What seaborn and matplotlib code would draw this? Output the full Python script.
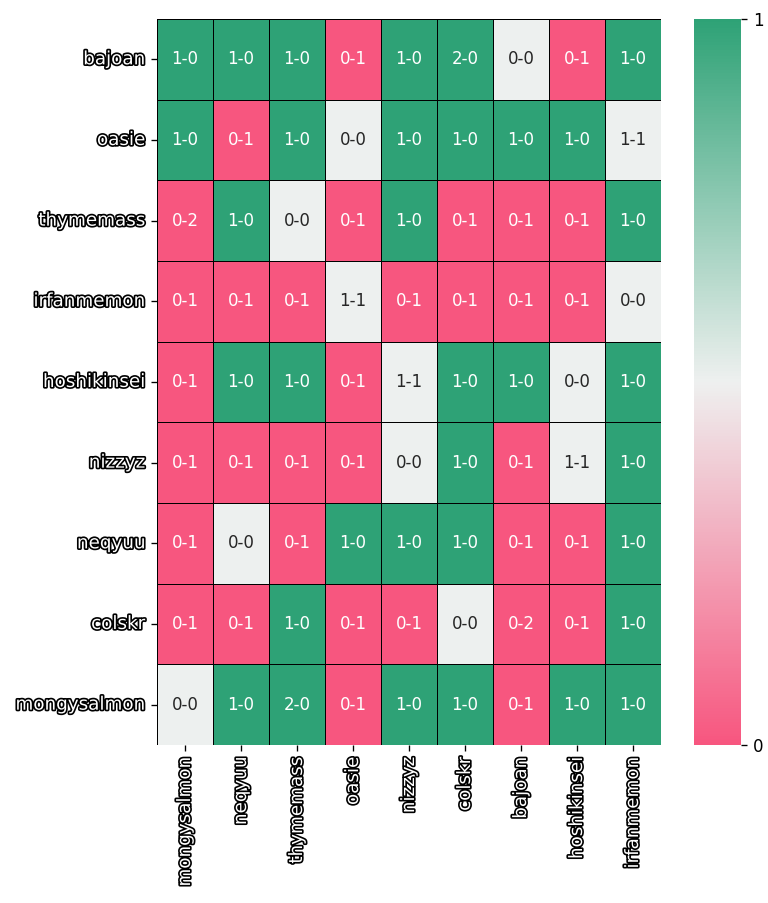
import matplotlib
matplotlib.use("Agg")
import matplotlib.pyplot as plt
import matplotlib.patheffects as pe
import seaborn as sns
import numpy as np
import pandas as pd

rows = ["bajoan", "oasie", "thymemass", "irfanmemon", "hoshikinsei",
        "nizzyz", "neqyuu", "colskr", "mongysalmon"]
cols = ["mongysalmon", "neqyuu", "thymemass", "oasie", "nizzyz",
        "colskr", "bajoan", "hoshikinsei", "irfanmemon"]

scores = [
    ["1-0", "1-0", "1-0", "0-1", "1-0", "2-0", "0-0", "0-1", "1-0"],
    ["1-0", "0-1", "1-0", "0-0", "1-0", "1-0", "1-0", "1-0", "1-1"],
    ["0-2", "1-0", "0-0", "0-1", "1-0", "0-1", "0-1", "0-1", "1-0"],
    ["0-1", "0-1", "0-1", "1-1", "0-1", "0-1", "0-1", "0-1", "0-0"],
    ["0-1", "1-0", "1-0", "0-1", "1-1", "1-0", "1-0", "0-0", "1-0"],
    ["0-1", "0-1", "0-1", "0-1", "0-0", "1-0", "0-1", "1-1", "1-0"],
    ["0-1", "0-0", "0-1", "1-0", "1-0", "1-0", "0-1", "0-1", "1-0"],
    ["0-1", "0-1", "1-0", "0-1", "0-1", "0-0", "0-2", "0-1", "1-0"],
    ["0-0", "1-0", "2-0", "0-1", "1-0", "1-0", "0-1", "1-0", "1-0"],
]


def outcome(s):
    a, b = (int(x) for x in s.split("-"))
    return 1.0 if a > b else (0.0 if a < b else 0.5)


values = pd.DataFrame([[outcome(s) for s in r] for r in scores], index=rows, columns=cols)
annot = np.array(scores)

cmap = sns.blend_palette(["#F7567F", "#EEF0EF", "#2EA276"], as_cmap=True)

fig = plt.figure(figsize=(6.4, 7.525), dpi=120)
ax = fig.add_axes([157 / 768, 1 - 745 / 903, (661 - 157) / 768, (745 - 19) / 903])
cax = fig.add_axes([694 / 768, 1 - 745 / 903, (741 - 694) / 768, (745 - 19) / 903])

sns.heatmap(values, ax=ax, cbar_ax=cax, cmap=cmap, vmin=0, vmax=1,
            annot=annot, fmt="", annot_kws={"fontsize": 10},
            linewidths=0.5, linecolor="black",
            cbar_kws={"ticks": [0, 1]})

stroke = [pe.withStroke(linewidth=2, foreground="black")]
for lab in ax.get_xticklabels() + ax.get_yticklabels():
    lab.set_color("white")
    lab.set_fontsize(11)
    lab.set_path_effects(stroke)
ax.set_xlabel("")
ax.set_ylabel("")
plt.setp(ax.get_xticklabels(), rotation=90)
plt.setp(ax.get_yticklabels(), rotation=0)

cax.tick_params(labelsize=10)
cb = ax.collections[0].colorbar
if cb is not None:
    cb.outline.set_visible(False)

fig.savefig("out.png", dpi=120)
